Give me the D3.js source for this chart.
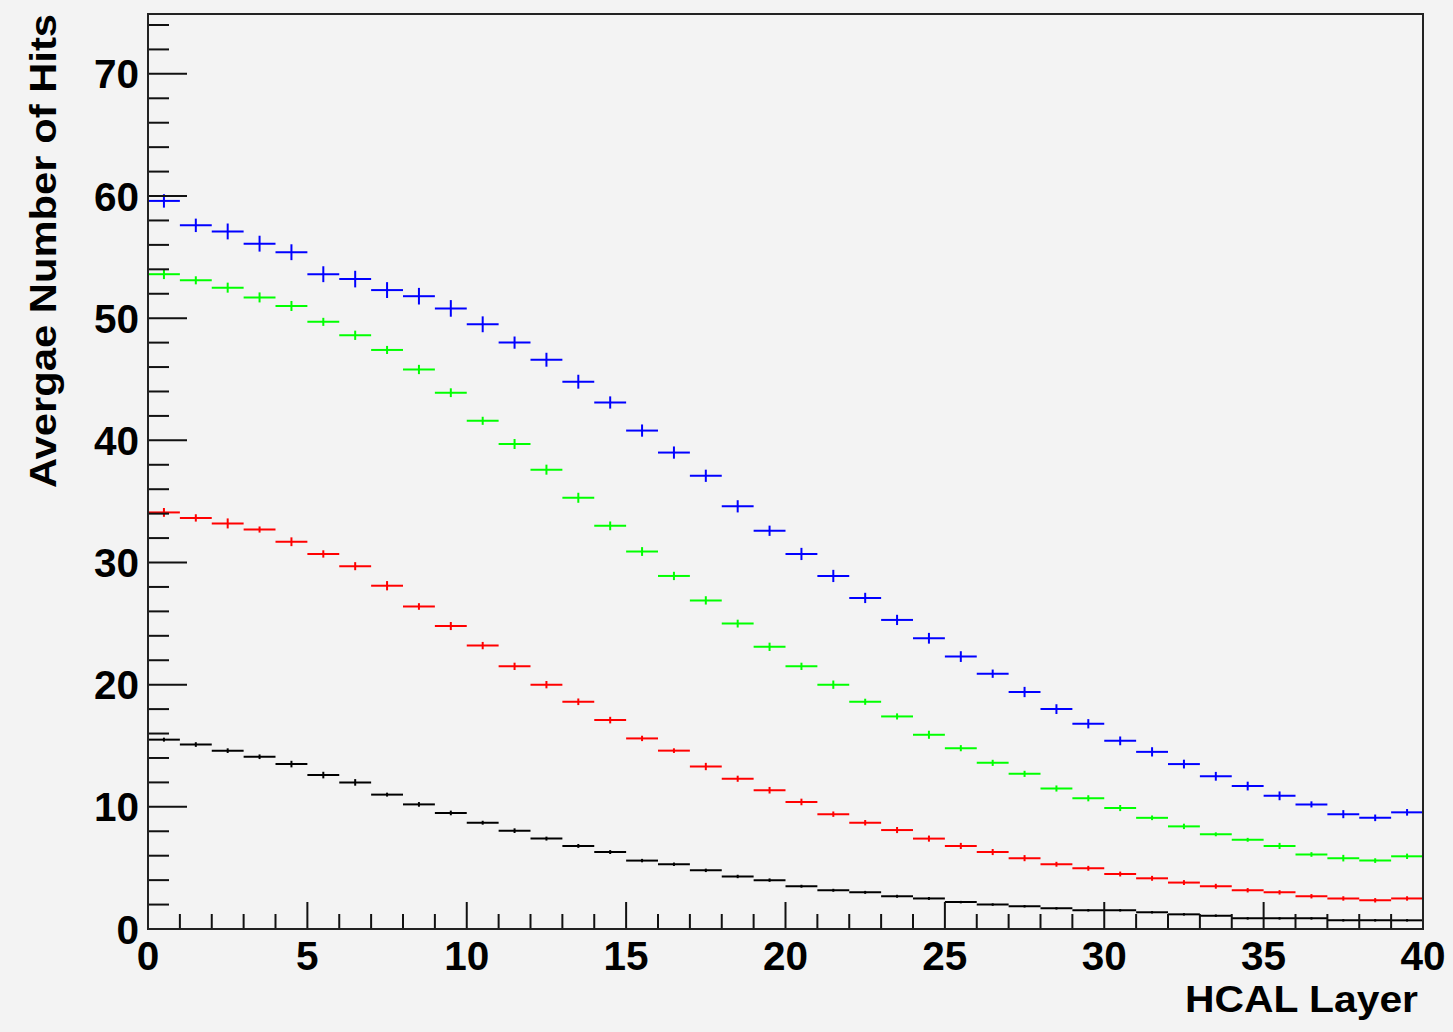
<!DOCTYPE html>
<html>
<head>
<meta charset="utf-8">
<script src="https://cdn.jsdelivr.net/npm/d3@7"></script>
<style>
  html, body { margin: 0; padding: 0; background: #f3f3f3; }
  svg { display: block; }
  text { font-family: "Liberation Sans", Arial, Helvetica, sans-serif; font-weight: bold; fill: #000; }
</style>
</head>
<body>
<svg id="chart" width="1453" height="1032"></svg>
<script>
// ---- Data ----
const layers = d3.range(0, 40); // HCAL layer bins [i, i+1)

const blueHits  = [59.6,57.6,57.1,56.1,55.4,53.6,53.2,52.3,51.8,50.8,49.5,48.0,46.6,44.8,43.1,40.8,39.0,37.1,34.6,32.6,30.7,28.9,27.1,25.3,23.8,22.3,20.9,19.4,18.0,16.8,15.4,14.5,13.5,12.5,11.7,10.9,10.2,9.4,9.1,9.55];
const blueErr   = [0.55,0.55,0.65,0.65,0.65,0.65,0.68,0.65,0.68,0.68,0.65,0.5,0.57,0.57,0.5,0.5,0.5,0.5,0.5,0.42,0.5,0.5,0.42,0.42,0.44,0.44,0.34,0.42,0.4,0.38,0.36,0.38,0.36,0.36,0.36,0.36,0.25,0.33,0.27,0.27];

const greenHits = [53.6,53.1,52.5,51.7,51.0,49.7,48.6,47.4,45.8,43.9,41.6,39.7,37.6,35.3,33.0,30.9,28.9,26.9,25.0,23.1,21.5,20.0,18.6,17.4,15.9,14.8,13.6,12.7,11.5,10.7,9.9,9.1,8.4,7.75,7.3,6.8,6.1,5.8,5.6,5.95];
const greenErr  = [0.4,0.33,0.41,0.41,0.41,0.33,0.38,0.33,0.38,0.36,0.33,0.41,0.41,0.41,0.36,0.36,0.34,0.34,0.32,0.34,0.3,0.34,0.25,0.25,0.33,0.25,0.25,0.25,0.25,0.25,0.25,0.19,0.22,0.16,0.16,0.25,0.19,0.27,0.19,0.22];

const redHits   = [34.1,33.65,33.2,32.7,31.7,30.7,29.7,28.1,26.4,24.8,23.2,21.5,20.0,18.6,17.1,15.6,14.6,13.3,12.3,11.36,10.4,9.4,8.7,8.1,7.4,6.8,6.3,5.8,5.3,4.97,4.5,4.15,3.8,3.5,3.17,3.0,2.68,2.5,2.35,2.5];
const redErr    = [0.36,0.3,0.41,0.25,0.36,0.3,0.33,0.38,0.27,0.33,0.3,0.3,0.3,0.27,0.27,0.22,0.19,0.3,0.25,0.27,0.27,0.22,0.22,0.25,0.25,0.25,0.25,0.25,0.2,0.2,0.2,0.2,0.2,0.2,0.18,0.18,0.18,0.18,0.18,0.18];

const blackHits = [15.5,15.1,14.6,14.1,13.5,12.6,12.0,11.0,10.2,9.5,8.7,8.05,7.4,6.8,6.3,5.6,5.3,4.8,4.3,4.0,3.5,3.17,3.0,2.68,2.5,2.2,2.0,1.86,1.69,1.53,1.53,1.37,1.2,1.09,0.87,0.87,0.87,0.71,0.71,0.71];
const blackErr  = [0.16,0.19,0.19,0.19,0.27,0.27,0.27,0.16,0.19,0.19,0.16,0.19,0.16,0.16,0.16,0.14,0.14,0.14,0.14,0.14,0.12,0.12,0.12,0.12,0.12,0.1,0.1,0.1,0.1,0.1,0.1,0.1,0.1,0.1,0.1,0.1,0.1,0.1,0.1,0.1];

const xTickLabels = [0, 5, 10, 15, 20, 25, 30, 35, 40];
const yTickLabels = [0, 10, 20, 30, 40, 50, 60, 70];
const xTitle = "HCAL Layer";
const yTitle = "Avergae Number of Hits";

const seriesList = [
  { name: "black", hits: blackHits, err: blackErr, color: "#000000" },
  { name: "red",   hits: redHits,   err: redErr,   color: "#ff0000" },
  { name: "green", hits: greenHits, err: greenErr, color: "#00ff00" },
  { name: "blue",  hits: blueHits,  err: blueErr,  color: "#0000ff" }
];

// ---- Layout ----
const W = 1453, H = 1032;
const frame = { left: 148, right: 1423, top: 14, bottom: 929 };

const x = d3.scaleLinear().domain([0, 40]).range([frame.left, frame.right]);
const y = d3.scaleLinear().domain([0, 74.9]).range([frame.bottom, frame.top]);

const svg = d3.select("#chart");
svg.append("rect").attr("width", W).attr("height", H).attr("fill", "#f3f3f3");

// ---- Data marks ----
const g = svg.append("g");
seriesList.forEach(s => {
  const sg = g.append("g").attr("stroke", s.color).attr("stroke-width", 2).attr("fill", "none");
  sg.selectAll("line.h").data(layers).join("line")
    .attr("class", "h")
    .attr("x1", i => x(i)).attr("x2", i => x(i + 1))
    .attr("y1", i => y(s.hits[i])).attr("y2", i => y(s.hits[i]));
  sg.selectAll("line.v").data(layers).join("line")
    .attr("class", "v")
    .attr("x1", i => x(i + 0.5)).attr("x2", i => x(i + 0.5))
    .attr("y1", i => y(s.hits[i] - s.err[i])).attr("y2", i => y(s.hits[i] + s.err[i]));
});

// ---- Axes ticks ----
const axG = svg.append("g").attr("stroke", "#111").attr("stroke-width", 2);
// y ticks (inside, pointing right)
const yMinor = d3.range(0, 75, 2);
axG.selectAll("line.ym").data(yMinor).join("line")
  .attr("x1", frame.left).attr("x2", v => frame.left + (v % 10 === 0 ? 39 : 21))
  .attr("y1", v => y(v)).attr("y2", v => y(v));
// x ticks (inside, pointing up)
const xMinor = d3.range(0, 41, 1);
axG.selectAll("line.xm").data(xMinor).join("line")
  .attr("y1", frame.bottom).attr("y2", v => frame.bottom - (v % 5 === 0 ? 27 : 15))
  .attr("x1", v => x(v)).attr("x2", v => x(v));

// frame
svg.append("rect")
  .attr("x", frame.left).attr("y", frame.top)
  .attr("width", frame.right - frame.left).attr("height", frame.bottom - frame.top)
  .attr("fill", "none").attr("stroke", "#222").attr("stroke-width", 2);

// ---- Tick labels ----
svg.append("g").selectAll("text").data(yTickLabels).join("text")
  .attr("x", 139).attr("y", v => y(v)).attr("dy", "0.36em")
  .attr("text-anchor", "end").attr("font-size", 40.5)
  .text(v => v);

svg.append("g").selectAll("text").data(xTickLabels).join("text")
  .attr("x", v => x(v)).attr("y", 970)
  .attr("text-anchor", "middle").attr("font-size", 40.5)
  .text(v => v);

// ---- Titles ----
svg.append("text")
  .attr("x", 1418).attr("y", 1012)
  .attr("text-anchor", "end").attr("font-size", 37.5)
  .attr("textLength", 233).attr("lengthAdjust", "spacingAndGlyphs")
  .text(xTitle);

svg.append("text")
  .attr("transform", "translate(56,14) rotate(-90)")
  .attr("text-anchor", "end").attr("font-size", 37.5)
  .attr("textLength", 474).attr("lengthAdjust", "spacingAndGlyphs")
  .text(yTitle);
</script>
</body>
</html>
